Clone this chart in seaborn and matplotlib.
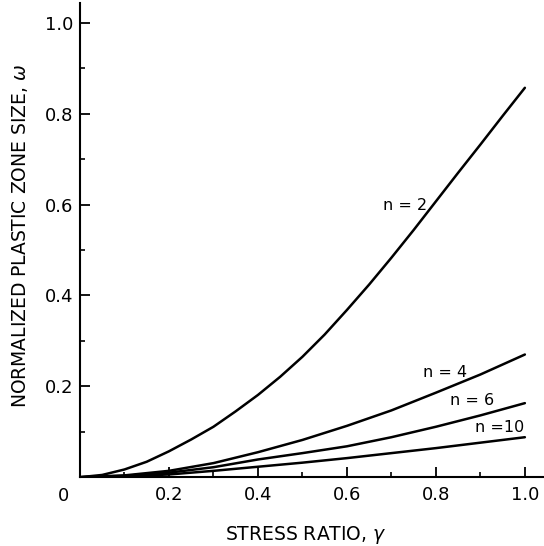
import numpy as np
import pandas as pd
import matplotlib
matplotlib.use("Agg")
import matplotlib.pyplot as plt
import seaborn as sns

# stress ratio values (x) and plastic zone size for each hardening exponent n
gamma_n2 = [0.0, 0.05, 0.1, 0.15, 0.2, 0.25, 0.3, 0.35, 0.4, 0.45, 0.5,
            0.55, 0.6, 0.65, 0.7, 0.75, 0.8, 0.85, 0.9, 0.95, 1.0]
omega_n2 = [0.0, 0.005, 0.017, 0.034, 0.057, 0.083, 0.111, 0.145, 0.181, 0.221, 0.265,
            0.314, 0.368, 0.424, 0.483, 0.544, 0.607, 0.670, 0.732, 0.795, 0.857]
gamma = [0.0, 0.1, 0.2, 0.3, 0.4, 0.5, 0.6, 0.7, 0.8, 0.9, 1.0]
omega_n4 = [0.0, 0.004, 0.014, 0.031, 0.055, 0.082, 0.113, 0.147, 0.186, 0.226, 0.270]
omega_n6 = [0.0, 0.003, 0.010, 0.022, 0.039, 0.053, 0.068, 0.088, 0.111, 0.136, 0.163]
omega_n10 = [0.0, 0.002, 0.006, 0.014, 0.023, 0.032, 0.042, 0.053, 0.064, 0.076, 0.088]

n_values = [2, 4, 6, 10]
curve_labels = ["n = 2", "n = 4", "n = 6", "n =10"]
label_pos = [(0.73, 0.598), (0.82, 0.231), (0.881, 0.169), (0.944, 0.11)]

xtick_vals = [0.2, 0.4, 0.6, 0.8, 1.0]
xtick_labels = ["0.2", "0.4", "0.6", "0.8", "1.0"]
ytick_vals = [0.2, 0.4, 0.6, 0.8, 1.0]
ytick_labels = ["0.2", "0.4", "0.6", "0.8", "1.0"]

series = [(gamma_n2, omega_n2), (gamma, omega_n4), (gamma, omega_n6), (gamma, omega_n10)]
rows = []
for n, (xs, ys) in zip(n_values, series):
    for g, w in zip(xs, ys):
        rows.append({"gamma": g, "omega": w, "n": n})
df = pd.DataFrame(rows)

sns.set_style("ticks")
plt.rcParams["font.family"] = ["DejaVu Sans"]
plt.rcParams["text.color"] = "black"
plt.rcParams["axes.labelcolor"] = "black"
plt.rcParams["xtick.color"] = "black"
plt.rcParams["ytick.color"] = "black"
plt.rcParams["axes.edgecolor"] = "black"

fig = plt.figure(figsize=(5.44, 5.46), dpi=100)
ax = fig.add_axes([0.147, 0.126, 0.853, 0.868])

sns.lineplot(data=df, x="gamma", y="omega", hue="n", palette=["black"] * 4,
             legend=False, lw=1.8, ax=ax)

for txt, (tx, ty) in zip(curve_labels, label_pos):
    ax.text(tx, ty, txt, fontsize=11.5, ha="center", va="center")

ax.set_xlim(0, 1.043)
ax.set_ylim(0, 1.043)
ax.set_xticks(xtick_vals)
ax.set_xticklabels(xtick_labels)
ax.set_yticks(ytick_vals)
ax.set_yticklabels(ytick_labels)
ax.set_xticks([0.1, 0.3, 0.5, 0.7, 0.9], minor=True)
ax.set_yticks([0.1, 0.3, 0.5, 0.7, 0.9], minor=True)

ax.tick_params(which="major", direction="in", length=7, width=1.3, labelsize=13, pad=5)
ax.tick_params(axis="x", which="major", pad=6)
ax.tick_params(which="minor", direction="in", length=3.5, width=1.2)

# origin label shared by both axes
ax.annotate("0", xy=(0, 0), xytext=(-12, -7), textcoords="offset points",
            ha="center", va="top", fontsize=13)

sns.despine(ax=ax)
for side in ["left", "bottom"]:
    ax.spines[side].set_linewidth(1.5)

ax.set_xlabel("STRESS RATIO, $\\gamma$", fontsize=13.5)
ax.set_ylabel("NORMALIZED PLASTIC ZONE SIZE, $\\omega$", fontsize=13.5)
ax.xaxis.set_label_coords(0.487, -0.098)
ax.yaxis.set_label_coords(-0.108, 0.508)

fig.savefig("out.png", dpi=100)
